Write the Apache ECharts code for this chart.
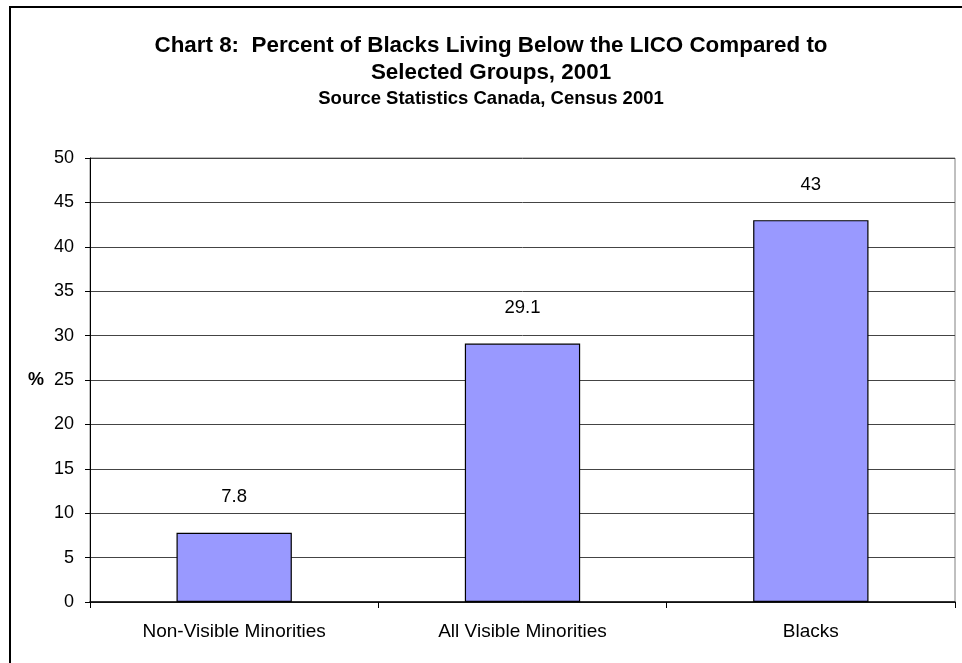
<!DOCTYPE html>
<html>
<head>
<meta charset="utf-8">
<script src="https://cdn.jsdelivr.net/npm/echarts@6/dist/echarts.min.js"></script>
<style>
html,body{margin:0;padding:0;background:#fff;}
#chart{width:962px;height:663px;}
</style>
</head>
<body>
<div id="chart"></div>
<script>
var categories = ['Non-Visible Minorities', 'All Visible Minorities', 'Blacks'];
var values = [7.8, 29.1, 43];
var yTicks = [0, 5, 10, 15, 20, 25, 30, 35, 40, 45, 50];
var titleLine1 = 'Chart 8:  Percent of Blacks Living Below the LICO Compared to';
var titleLine2 = 'Selected Groups, 2001';
var subTitle = 'Source Statistics Canada, Census 2001';
var yName = '%';

var chart = echarts.init(document.getElementById('chart'), null, {renderer: 'canvas'});
var font = 'Arial, "Liberation Sans", sans-serif';
chart.setOption({
  animation: false,
  backgroundColor: '#fff',
  graphic: [
    {type: 'rect', shape: {x: 10, y: 7, width: 1000, height: 700}, style: {fill: 'none', stroke: '#000', lineWidth: 2}, z: 0},
    {type: 'text', x: 491, y: 46, style: {text: titleLine1, font: 'bold 22.4px ' + font, fill: '#000', textAlign: 'center', textVerticalAlign: 'middle'}},
    {type: 'text', x: 491, y: 73, style: {text: titleLine2, font: 'bold 22.4px ' + font, fill: '#000', textAlign: 'center', textVerticalAlign: 'middle'}},
    {type: 'text', x: 491, y: 99, style: {text: subTitle, font: 'bold 18.5px ' + font, fill: '#000', textAlign: 'center', textVerticalAlign: 'middle'}}
  ],
  grid: {left: 90, right: 7, top: 158, bottom: 61, show: true, borderColor: '#808080', borderWidth: 1, backgroundColor: 'transparent'},
  xAxis: {
    type: 'category',
    data: categories,
    axisLine: {show: true, lineStyle: {color: '#000', width: 1.5}},
    axisTick: {show: true, length: 6, lineStyle: {color: '#000'}},
    axisLabel: {fontFamily: font, fontSize: 19, color: '#000', margin: 20}
  },
  yAxis: {
    type: 'value',
    min: yTicks[0],
    max: yTicks[yTicks.length - 1],
    interval: yTicks[1] - yTicks[0],
    name: yName,
    nameLocation: 'middle',
    nameRotate: 0,
    nameGap: 46,
    nameTextStyle: {fontFamily: font, fontSize: 18, fontWeight: 'bold', color: '#000'},
    axisLine: {show: true, lineStyle: {color: '#000', width: 1}},
    axisTick: {show: true, length: 5, lineStyle: {color: '#000'}},
    axisLabel: {fontFamily: font, fontSize: 18, color: '#000', margin: 16},
    splitLine: {show: true, lineStyle: {color: '#444', width: 1}}
  },
  series: [{
    type: 'bar',
    data: values,
    barWidth: '40%',
    itemStyle: {color: '#9999FF', borderColor: '#000', borderWidth: 1.2},
    label: {show: true, position: 'top', distance: 26, fontFamily: font, fontSize: 18.5, color: '#000'}
  }]
});
</script>
</body>
</html>
